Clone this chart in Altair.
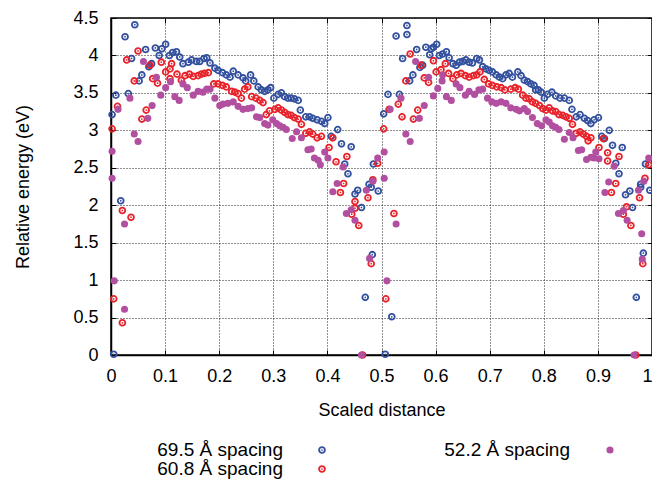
import altair as alt
import pandas as pd

# ---------------- data ----------------
X_TICKS = [0, 0.1, 0.2, 0.3, 0.4, 0.5, 0.6, 0.7, 0.8, 0.9, 1.0]
Y_TICKS = [0, 0.5, 1, 1.5, 2, 2.5, 3, 3.5, 4, 4.5]
SERIES = ["69.5 Å spacing", "60.8 Å spacing", "52.2 Å spacing"]

blue_x = [0.002, 0.005, 0.009, 0.018, 0.026, 0.032, 0.038, 0.044, 0.052, 0.057, 0.064, 0.070, 0.075,
          0.082, 0.089, 0.094, 0.101, 0.108, 0.114, 0.121, 0.127, 0.133, 0.143, 0.149, 0.158, 0.164,
          0.172, 0.177, 0.183, 0.192, 0.198, 0.206, 0.213, 0.220, 0.226, 0.235, 0.244, 0.249, 0.258,
          0.264, 0.272, 0.278, 0.284, 0.290, 0.295, 0.301, 0.309, 0.315, 0.321, 0.327, 0.333, 0.339,
          0.346, 0.350, 0.360, 0.367, 0.373, 0.381, 0.389, 0.395, 0.401, 0.407, 0.419, 0.426, 0.432,
          0.438, 0.444, 0.451, 0.456, 0.463, 0.470, 0.477, 0.481, 0.483, 0.485, 0.494, 0.504, 0.507,
          0.512, 0.519, 0.527, 0.533, 0.539, 0.547, 0.547, 0.552, 0.558, 0.565, 0.571, 0.576, 0.582,
          0.589, 0.592, 0.596, 0.602, 0.607, 0.613, 0.620, 0.625, 0.632, 0.638, 0.644, 0.650, 0.656,
          0.662, 0.668, 0.676, 0.681, 0.687, 0.693, 0.699, 0.705, 0.712, 0.718, 0.724, 0.730, 0.736,
          0.742, 0.752, 0.758, 0.764, 0.770, 0.776, 0.782, 0.785, 0.790, 0.795, 0.801, 0.807, 0.815,
          0.822, 0.830, 0.838, 0.847, 0.852, 0.860, 0.867, 0.875, 0.881, 0.887, 0.893, 0.901, 0.907,
          0.912, 0.921, 0.927, 0.933, 0.939, 0.945, 0.951, 0.959, 0.964, 0.971, 0.979, 0.979, 0.984,
          0.988, 0.996]
blue_y = [3.21, 0.01, 3.47, 2.06, 4.25, 3.49, 3.96, 4.41, 3.66, 3.74, 4.08, 3.85, 3.89,
          4.10, 4.00, 4.09, 4.15, 4.00, 4.04, 4.05, 3.98, 3.89, 3.91, 3.94, 3.92, 3.92,
          3.96, 3.97, 3.90, 3.83, 3.80, 3.77, 3.74, 3.71, 3.79, 3.74, 3.70, 3.66, 3.74,
          3.66, 3.58, 3.54, 3.52, 3.54, 3.57, 3.43, 3.48, 3.50, 3.45, 3.43, 3.43, 3.42,
          3.40, 3.27, 3.18, 3.18, 3.16, 3.14, 3.12, 3.09, 3.17, 2.92, 3.01, 2.82, 2.55,
          2.42, 2.78, 2.15, 2.20, 1.97, 0.77, 2.28, 2.24, 1.34, 2.55, 2.19, 3.22, 0.01,
          3.48, 0.51, 4.26, 3.48, 3.96, 4.40, 4.28, 3.66, 3.74, 4.08, 3.84, 3.87, 4.11,
          4.01, 4.09, 4.11, 4.15, 4.00, 4.02, 4.05, 3.97, 3.89, 3.87, 3.91, 3.92, 3.94,
          3.91, 3.90, 3.96, 3.94, 3.85, 3.82, 3.80, 3.78, 3.74, 3.71, 3.69, 3.74, 3.76,
          3.71, 3.78, 3.73, 3.67, 3.65, 3.62, 3.60, 3.54, 3.54, 3.51, 3.43, 3.48, 3.51,
          3.46, 3.43, 3.43, 3.40, 3.28, 3.18, 3.21, 3.16, 3.13, 3.09, 3.14, 3.17, 2.92,
          2.89, 3.00, 2.80, 2.56, 2.42, 2.77, 2.14, 2.19, 1.97, 0.77, 2.28, 2.24, 1.36,
          2.55, 2.20]

red_x = [0.002, 0.005, 0.012, 0.021, 0.021, 0.029, 0.037, 0.043, 0.050, 0.057, 0.065, 0.072, 0.077,
         0.086, 0.093, 0.101, 0.109, 0.109, 0.112, 0.122, 0.130, 0.137, 0.145, 0.152, 0.161, 0.167,
         0.173, 0.180, 0.190, 0.198, 0.206, 0.213, 0.223, 0.229, 0.235, 0.241, 0.247, 0.253, 0.260,
         0.268, 0.275, 0.281, 0.287, 0.293, 0.303, 0.309, 0.315, 0.321, 0.327, 0.333, 0.339, 0.346,
         0.352, 0.360, 0.367, 0.373, 0.381, 0.389, 0.403, 0.410, 0.416, 0.424, 0.430, 0.436, 0.445,
         0.451, 0.451, 0.458, 0.465, 0.475, 0.481, 0.484, 0.493, 0.504, 0.508, 0.514, 0.523, 0.531,
         0.538, 0.545, 0.553, 0.559, 0.567, 0.573, 0.579, 0.587, 0.596, 0.601, 0.610, 0.618, 0.624,
         0.632, 0.639, 0.647, 0.655, 0.662, 0.670, 0.676, 0.682, 0.690, 0.698, 0.705, 0.713, 0.721,
         0.728, 0.739, 0.747, 0.753, 0.761, 0.767, 0.773, 0.779, 0.785, 0.792, 0.798, 0.804, 0.810,
         0.816, 0.822, 0.828, 0.835, 0.841, 0.847, 0.853, 0.860, 0.867, 0.873, 0.879, 0.882, 0.887,
         0.902, 0.910, 0.918, 0.918, 0.925, 0.933, 0.939, 0.947, 0.953, 0.961, 0.970, 0.977, 0.983,
         0.987, 0.994]
red_y = [3.02, 0.75, 3.32, 1.93, 0.43, 3.94, 1.84, 3.66, 4.06, 3.15, 3.27, 3.87, 3.69,
         3.63, 3.91, 3.78, 3.82, 3.69, 3.89, 3.75, 3.67, 3.73, 3.75, 3.72, 3.73, 3.75,
         3.76, 3.77, 3.62, 3.62, 3.60, 3.58, 3.52, 3.51, 3.49, 3.43, 3.55, 3.58, 3.45,
         3.43, 3.40, 3.37, 3.21, 3.26, 3.28, 3.30, 3.27, 3.24, 3.21, 3.20, 3.17, 3.15,
         3.08, 2.96, 2.98, 2.95, 2.90, 2.92, 2.77, 2.90, 2.58, 2.17, 2.29, 2.65, 1.88,
         2.05, 1.96, 1.73, 0.00, 2.10, 1.22, 2.34, 2.56, 3.02, 0.75, 3.28, 1.89, 3.35,
         3.18, 3.66, 4.02, 3.15, 3.27, 3.87, 3.70, 3.64, 3.93, 3.78, 3.81, 3.89, 3.76,
         3.69, 3.74, 3.76, 3.73, 3.71, 3.73, 3.74, 3.78, 3.68, 3.62, 3.60, 3.58, 3.57,
         3.54, 3.55, 3.57, 3.55, 3.47, 3.43, 3.42, 3.38, 3.36, 3.33, 3.29, 3.27, 3.30,
         3.26, 3.25, 3.21, 3.20, 3.18, 3.16, 3.08, 2.96, 2.98, 2.95, 2.92, 2.86, 2.90,
         2.77, 2.89, 2.70, 2.59, 2.17, 2.29, 2.65, 1.88, 1.98, 1.73, 0.00, 2.10, 1.22,
         2.36, 2.54]

purple_x = [0.002, 0.002, 0.006, 0.013, 0.025, 0.025, 0.035, 0.043, 0.050, 0.060, 0.068, 0.076, 0.084,
            0.092, 0.101, 0.110, 0.118, 0.126, 0.133, 0.141, 0.152, 0.161, 0.170, 0.177, 0.183, 0.192,
            0.201, 0.207, 0.216, 0.226, 0.235, 0.244, 0.253, 0.260, 0.269, 0.275, 0.284, 0.290, 0.299,
            0.306, 0.312, 0.318, 0.324, 0.335, 0.343, 0.352, 0.364, 0.370, 0.376, 0.383, 0.387, 0.395,
            0.401, 0.410, 0.418, 0.429, 0.435, 0.444, 0.451, 0.463, 0.472, 0.478, 0.484, 0.493, 0.505,
            0.505, 0.510, 0.516, 0.527, 0.536, 0.545, 0.553, 0.563, 0.570, 0.579, 0.587, 0.596, 0.604,
            0.612, 0.613, 0.620, 0.629, 0.638, 0.645, 0.655, 0.662, 0.672, 0.680, 0.687, 0.696, 0.704,
            0.712, 0.721, 0.730, 0.739, 0.749, 0.755, 0.764, 0.770, 0.779, 0.788, 0.796, 0.804, 0.810,
            0.816, 0.822, 0.828, 0.838, 0.847, 0.854, 0.864, 0.870, 0.879, 0.887, 0.893, 0.896, 0.902,
            0.913, 0.920, 0.930, 0.938, 0.947, 0.954, 0.967, 0.975, 0.981, 0.982, 0.985, 0.994]
purple_y = [2.72, 2.36, 0.99, 3.28, 1.75, 0.61, 3.43, 2.95, 2.85, 3.92, 3.16, 3.33, 3.71,
            3.47, 3.57, 3.65, 3.45, 3.40, 3.62, 3.57, 3.47, 3.52, 3.51, 3.55, 3.55, 3.43,
            3.33, 3.35, 3.36, 3.38, 3.32, 3.28, 3.29, 3.30, 3.18, 3.17, 3.09, 3.07, 3.14,
            3.09, 3.06, 3.04, 3.01, 2.89, 2.98, 2.90, 2.74, 2.75, 2.63, 2.60, 2.54, 2.71,
            2.63, 2.18, 2.29, 2.51, 1.89, 1.94, 1.80, 0.00, 2.20, 1.29, 2.32, 2.63, 2.36,
            2.71, 0.99, 3.28, 1.75, 3.43, 2.95, 2.85, 3.92, 3.16, 3.33, 3.71, 3.46, 3.56,
            3.66, 3.74, 3.45, 3.40, 3.62, 3.57, 3.47, 3.52, 3.48, 3.54, 3.55, 3.43, 3.38,
            3.36, 3.38, 3.36, 3.30, 3.28, 3.26, 3.29, 3.25, 3.17, 3.09, 3.06, 3.14, 3.11,
            3.06, 3.04, 3.01, 2.88, 2.97, 2.90, 2.73, 2.74, 2.61, 2.64, 2.63, 2.71, 2.62,
            2.17, 2.31, 2.52, 1.89, 1.93, 1.80, 0.00, 2.20, 1.62, 1.28, 2.32, 2.63]

# ---------------- styling ----------------
BLUE = "#33509f"
RED = "#e8222a"
PURPLE = "#b24fa0"
FONT = "Liberation Sans"
RING_SIZE = 34
RING_W = 1.8
DOT_SIZE = 3
FILL_SIZE = 50
H = 337

df_blue = pd.DataFrame({"x": blue_x, "y": blue_y, "series": SERIES[0]})
df_red = pd.DataFrame({"x": red_x, "y": red_y, "series": SERIES[1]})
df_purple = pd.DataFrame({"x": purple_x, "y": purple_y, "series": SERIES[2]})

xs = alt.Scale(domain=[0, 1], nice=False, zero=False)
ys = alt.Scale(domain=[0, 4.5], nice=False, zero=False)

main_x_axis = alt.Axis(values=X_TICKS, format="~g", grid=True, gridDash=[1, 2], gridColor="#222222",
                       gridWidth=1, ticks=False, domain=True, domainColor="black", domainWidth=1.5,
                       labelFont=FONT, labelFontSize=18, labelColor="black", labelPadding=12,
                       labelFlush=False,
                       labelAlign={"condition": {"test": "datum.value >= 1", "value": "right"},
                                   "value": "center"},
                       title="Scaled distance", titleFont=FONT, titleFontSize=18,
                       titleFontWeight="normal", titleColor="black", titleX=270.5, titleY=55,
                       titleAlign="center", titleBaseline="middle")
main_y_axis = alt.Axis(values=Y_TICKS, format="~g", grid=True, gridDash=[1, 2], gridColor="#222222",
                       gridWidth=1, ticks=False, domain=True, domainColor="black", domainWidth=1.5,
                       labelFont=FONT, labelFontSize=18, labelColor="black", labelPadding=13,
                       labelFlush=False, title="Relative energy (eV)", titleFont=FONT, titleFontSize=18,
                       titleFontWeight="normal", titleColor="black", titleX=-88, titleY=H / 2,
                       titleAngle=270, titleAlign="center", titleBaseline="middle")


def tick_axis(vals, orient):
    return alt.Axis(values=vals, orient=orient, offset=-5, tickSize=5, tickColor="black", tickWidth=1,
                    labels=False, domain=False, grid=False, title=None)


def rings(df, color, xaxis=None, yaxis=None):
    ring = alt.Chart(df).mark_point(shape="circle", filled=False, size=RING_SIZE, strokeWidth=RING_W,
                                    color=color, opacity=1).encode(
        x=alt.X("x:Q", scale=xs, axis=xaxis), y=alt.Y("y:Q", scale=ys, axis=yaxis))
    dot = alt.Chart(df).mark_point(shape="circle", filled=True, size=DOT_SIZE, color=color, opacity=1).encode(
        x=alt.X("x:Q", scale=xs, axis=None), y=alt.Y("y:Q", scale=ys, axis=None))
    return ring, dot


blue_ring, blue_dot = rings(df_blue, BLUE, main_x_axis, main_y_axis)
red_ring, red_dot = rings(df_red, RED)
purple_pts = alt.Chart(df_purple).mark_point(shape="circle", filled=True, size=FILL_SIZE, color=PURPLE,
                                             opacity=1).encode(
    x=alt.X("x:Q", scale=xs, axis=None), y=alt.Y("y:Q", scale=ys, axis=None))

ticks_lb = alt.Chart(df_blue).mark_point(opacity=0).encode(
    x=alt.X("x:Q", scale=xs, axis=tick_axis(X_TICKS, "bottom")),
    y=alt.Y("y:Q", scale=ys, axis=tick_axis(Y_TICKS, "left")))
ticks_rt = alt.Chart(df_blue).mark_point(opacity=0).encode(
    x=alt.X("x:Q", scale=xs, axis=tick_axis(X_TICKS, "top")),
    y=alt.Y("y:Q", scale=ys, axis=tick_axis(Y_TICKS, "right")))

# ---------------- legend (gnuplot style: text then symbol) ----------------
def legend_entry(i, tx, ty, sx, kind, color):
    lbl = pd.DataFrame({"label": [SERIES[i]]})
    text = alt.Chart(lbl).mark_text(align="right", baseline="middle", font=FONT, fontSize=19,
                                    color="black").encode(
        text="label:N", x=alt.value(tx), y=alt.value(ty))
    layers = [text]
    if kind == "ring":
        layers.append(alt.Chart(lbl).mark_point(shape="circle", filled=False, size=RING_SIZE,
                                                strokeWidth=RING_W, color=color, opacity=1).encode(
            x=alt.value(sx), y=alt.value(ty)))
        layers.append(alt.Chart(lbl).mark_point(shape="circle", filled=True, size=DOT_SIZE, color=color,
                                                opacity=1).encode(x=alt.value(sx), y=alt.value(ty)))
    else:
        layers.append(alt.Chart(lbl).mark_point(shape="circle", filled=True, size=FILL_SIZE, color=color,
                                                opacity=1).encode(x=alt.value(sx), y=alt.value(ty)))
    return layers


leg = []
leg += legend_entry(0, 172, 432, 211, "ring", BLUE)
leg += legend_entry(1, 172, 451, 211, "ring", RED)
leg += legend_entry(2, 459, 432, 499, "dot", PURPLE)

chart = alt.layer(
    blue_ring, blue_dot, red_ring, red_dot, purple_pts, ticks_lb, ticks_rt, *leg
).resolve_axis(x="independent", y="independent").properties(
    width=541, height=H,
    autosize=alt.AutoSizeParams(type="none"),
    padding={"left": 103, "top": 10, "right": 0, "bottom": 124},
    background="white",
).configure_view(stroke="black", strokeWidth=1.5)

chart.save("out.html", embed_options={"renderer": "svg", "actions": False})
